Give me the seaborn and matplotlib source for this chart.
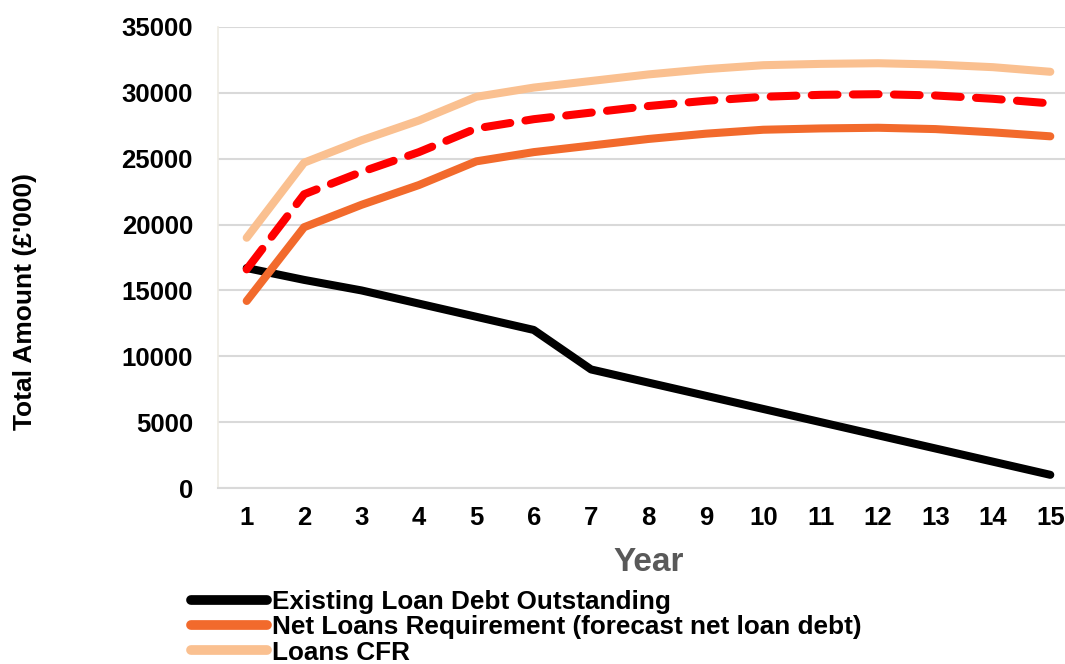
import matplotlib
matplotlib.use("Agg")
import matplotlib.pyplot as plt
import seaborn as sns
import pandas as pd

years = list(range(1, 16))
existing_debt = [16700, 15800, 15000, 14000, 13000, 12000, 9000, 8000, 7000, 6000, 5000, 4000, 3000, 2000, 1000]
net_loans_req = [14200, 19800, 21500, 23000, 24800, 25500, 26000, 26500, 26900, 27200, 27300, 27350, 27250, 27000, 26700]
loans_cfr = [19000, 24700, 26400, 27900, 29700, 30400, 30900, 31400, 31800, 32100, 32200, 32250, 32150, 31950, 31600]
liability_benchmark = [16600, 22300, 24000, 25500, 27300, 28000, 28500, 29000, 29400, 29700, 29850, 29900, 29800, 29550, 29200]

series_names = ["Existing Loan Debt Outstanding",
                "Net Loans Requirement (forecast net loan debt)",
                "Loans CFR"]
y_ticks = [0, 5000, 10000, 15000, 20000, 25000, 30000, 35000]

sns.set_theme(style="white")
plt.rcParams['font.family'] = ['Liberation Sans', 'DejaVu Sans']
plt.rcParams['font.weight'] = 'bold'
plt.rcParams['text.color'] = 'black'

fig = plt.figure(figsize=(10.65, 6.64), dpi=100)
ax = fig.add_axes([218/1065, 1-488/664, 861/1065, 461/664])

df = pd.DataFrame({"Year": years})
lw = 5.8
for vals, color, name in [(existing_debt, "#000000", series_names[0]),
                          (net_loans_req, "#F26A2C", series_names[1]),
                          (loans_cfr, "#FAC090", series_names[2])]:
    d = df.assign(v=vals)
    sns.lineplot(data=d, x="Year", y="v", ax=ax, color=color, linewidth=lw,
                 label=name, legend=False, solid_capstyle="round", solid_joinstyle="round")
d = df.assign(v=liability_benchmark)
sns.lineplot(data=d, x="Year", y="v", ax=ax, color="#FF0000", linewidth=lw,
             legend=False)
ax.lines[-1].set_dashes([3.2, 1.9])
ax.lines[-1].set_dash_capstyle("round")

ax.set_xlim(0.5, 15.5)
ax.set_ylim(0, 35000)
ax.set_yticks(y_ticks)
ax.set_xticks(years)
ax.grid(axis="y", color="#D9D9D9", linewidth=1.5)
ax.set_axisbelow(True)
for s in ["top", "right"]:
    ax.spines[s].set_visible(False)
ax.spines["left"].set_color("#EEEBE3")
ax.spines["left"].set_linewidth(1.2)
ax.spines["bottom"].set_color("#D9D9D9")
ax.spines["bottom"].set_linewidth(1.5)
ax.tick_params(axis="y", labelsize=18.5, pad=18, length=0, labelcolor="black")
ax.tick_params(axis="x", labelsize=18.5, pad=13, length=0, labelcolor="black")
for t in ax.get_xticklabels() + ax.get_yticklabels():
    t.set_fontweight("bold")

ax.set_xlabel("Year", fontsize=24, fontweight="bold", color="#595959", labelpad=12)
ax.set_ylabel("")
fig.text(25/1065, 1-301/664, "Total Amount (£'000)", rotation=90, fontsize=19,
         fontweight="bold", ha="center", va="center", color="black")

handles = ax.lines[:3]
leg = fig.legend(handles, series_names, loc="upper left",
                 bbox_to_anchor=(191/1065, 1-590/664), frameon=False,
                 fontsize=18.8, handlelength=2.9, handletextpad=0.2,
                 labelspacing=0.05, borderaxespad=0, borderpad=0)
for t in leg.get_texts():
    t.set_fontweight("bold")
    t.set_color("black")
for l in leg.get_lines():
    l.set_solid_capstyle("round")
    l.set_linewidth(7)

fig.savefig("out.png", dpi=100)
